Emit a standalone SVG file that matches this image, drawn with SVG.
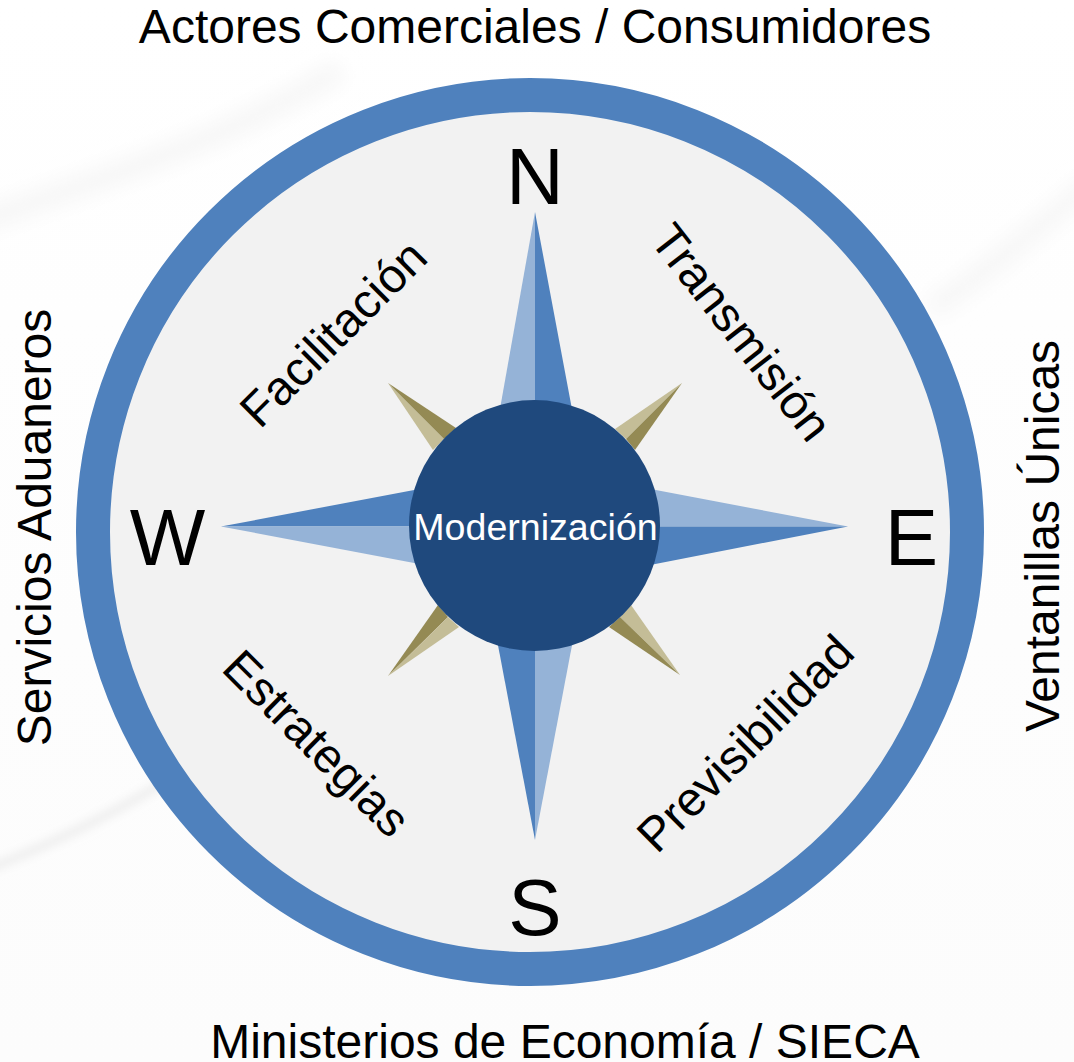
<svg xmlns="http://www.w3.org/2000/svg" width="1074" height="1062" viewBox="0 0 1074 1062">
<style>
text{font-family:"Liberation Sans",Arial,sans-serif;fill:#000}
.side{font-size:48px}
.dir{font-size:80px;text-anchor:middle}
.diag{font-size:48px;text-anchor:middle}
.b{fill:#4F81BD}.lb{fill:#95B3D7}.o{fill:#948A54}.lo{fill:#C4BD97}
</style>
<defs>
<linearGradient id="bg" x1="0" y1="0" x2="0" y2="1"><stop offset="0" stop-color="#fff"/><stop offset="0.6" stop-color="#fdfdfd"/><stop offset="1" stop-color="#fcfcfc"/></linearGradient>
<filter id="blur" x="-20%" y="-50%" width="140%" height="200%"><feGaussianBlur stdDeviation="10"/></filter>
<filter id="blur2" x="-20%" y="-50%" width="140%" height="200%"><feGaussianBlur stdDeviation="5"/></filter>
</defs>
<rect id="background" width="1074" height="1062" fill="url(#bg)"/>
<g id="swooshes" fill="none" stroke="#f6f6f6">
<path d="M-20 222C90 180 210 150 340 70" stroke-width="22" filter="url(#blur)"/>
<path d="M1090 185C1040 225 990 270 930 310" stroke-width="20" filter="url(#blur)"/>
<path d="M-10 868C50 845 110 815 165 782" stroke-width="9" stroke="#eeeeee" filter="url(#blur2)"/>
</g>
<g id="dial"><circle cx="530" cy="532" r="437" fill="#F2F2F2" stroke="#4F81BD" stroke-width="34"/></g>
<g id="star">
<polygon class="lb" points="535,212 535,420 498,420"/><polygon class="b" points="535,212 535,420 574,420"/>
<polygon class="b" points="535,840 535,640 497,640"/><polygon class="lb" points="535,840 535,640 573,640"/>
<polygon class="b" points="221,526.500 430,526.500 430,487"/><polygon class="lb" points="221,526.500 430,526.500 430,566"/>
<polygon class="lb" points="848,526.500 640,526.500 640,487"/><polygon class="b" points="848,526.500 640,526.500 640,567"/>
<polygon class="lo" points="388,383 444,439 433,450"/><polygon class="o" points="388,383 444,439 456,428"/>
<polygon class="lo" points="682,383 626,439 615,429"/><polygon class="o" points="682,383 626,439 635,450"/>
<polygon class="o" points="388,676 448,617 438,605"/><polygon class="lo" points="388,676 448,617 459,627"/>
<polygon class="lo" points="680,675 620,617 631,605"/><polygon class="o" points="680,675 620,617 609,627"/>
</g>
<g id="center"><circle cx="534.500" cy="525.500" r="125.500" fill="#1F497D"/>
<text x="535.500" y="540" font-size="37.600" text-anchor="middle" style="fill:#fff">Modernización</text></g>
<g id="north"><text class="dir" x="535" y="204">N</text></g>
<g id="south"><text class="dir" x="535" y="935">S</text></g>
<g id="east"><text class="dir" x="911.500" y="565">E</text></g>
<g id="west"><text class="dir" x="167.500" y="565">W</text></g>
<g id="top"><text class="side" x="535" y="43" text-anchor="middle">Actores Comerciales / Consumidores</text></g>
<g id="bottom"><text class="side" x="565" y="1058" text-anchor="middle">Ministerios de Economía / SIECA</text></g>
<g id="left"><text class="side" transform="translate(51 527.500) rotate(-90)" text-anchor="middle">Servicios Aduaneros</text></g>
<g id="right"><text class="side" transform="translate(1059 536) rotate(-90)" text-anchor="middle">Ventanillas Únicas</text></g>
<g id="facilitacion"><text class="diag" transform="translate(345 345) rotate(-45)">Facilitación</text></g>
<g id="transmision"><text class="diag" transform="translate(728.500 342.500) rotate(52)">Transmisión</text></g>
<g id="estrategias"><text class="diag" transform="translate(305 755) rotate(45)">Estrategias</text></g>
<g id="previsibilidad"><text class="diag" transform="translate(757 755) rotate(-45)">Previsibilidad</text></g>
</svg>
